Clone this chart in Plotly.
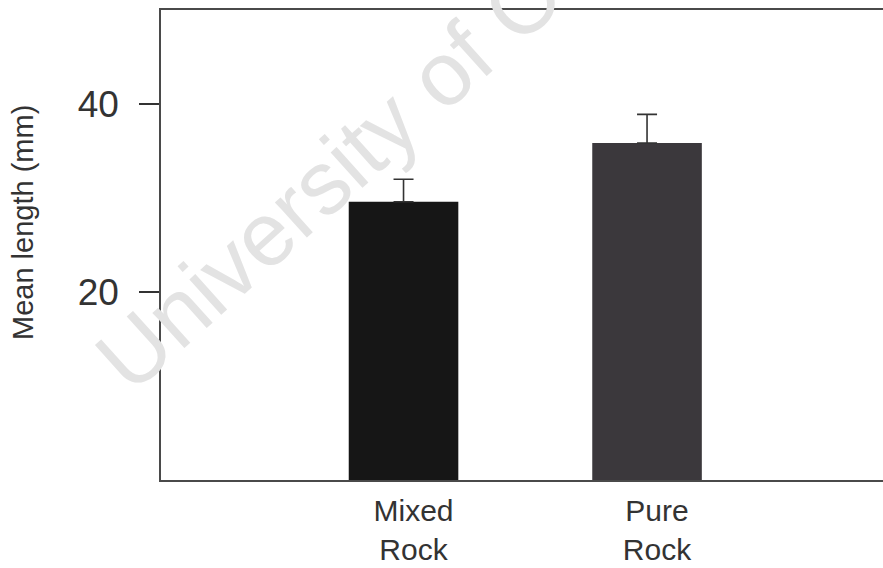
import plotly.graph_objects as go

# Mean shell length by substrate type, with standard error
categories = ["Mixed<br>Rock", "Pure<br>Rock"]
mean_length = [29.6, 35.85]
std_error = [2.4, 3.05]
bar_colors = ["#161616", "#3b383c"]
y_ticks = [20, 40]

FONT = "Liberation Sans, Arial, sans-serif"
AXIS = "#4a4a4a"

fig = go.Figure()
fig.add_trace(go.Bar(
    x=categories,
    y=mean_length,
    width=0.45,
    marker=dict(color=bar_colors, line=dict(width=0)),
    error_y=dict(type="data", array=std_error, symmetric=False,
                 arrayminus=[0, 0], color="#333333", thickness=1.6, width=10),
    showlegend=False,
))

fig.update_layout(
    width=883, height=568,
    margin=dict(l=161, r=0, t=10, b=88),
    paper_bgcolor="white", plot_bgcolor="white",
    font=dict(family=FONT, color="#333333"),
    xaxis=dict(
        type="category",
        range=[-0.996, 1.969],
        automargin=False,
        showline=True, linecolor=AXIS, linewidth=1.5, mirror=True,
        ticks="", showgrid=False, zeroline=False,
        tickfont=dict(size=30, color="#333333"),
        ticklabelshift=10, ticklabelstandoff=3,
    ),
    yaxis=dict(
        range=[0, 50],
        tickvals=y_ticks,
        automargin=False,
        showline=True, linecolor=AXIS, linewidth=1.5, mirror=False,
        ticks="outside", ticklen=20, tickwidth=1.5, tickcolor="#333333",
        showgrid=False, zeroline=False,
        tickfont=dict(size=37, color="#333333"),
        ticklabelstandoff=13,
    ),
)

# Y-axis title, placed as a rotated label left of the tick labels
fig.add_annotation(
    text="Mean length (mm)",
    xref="paper", yref="paper", x=-0.191, y=0.547,
    xanchor="center", yanchor="middle",
    showarrow=False, textangle=-90,
    font=dict(family=FONT, size=29, color="#333333"),
)

# Light diagonal watermark across the panel
fig.add_annotation(
    text="University of Cape Town",
    xref="paper", yref="paper", x=0.428, y=0.918,
    xanchor="center", yanchor="middle",
    showarrow=False, textangle=-42,
    font=dict(family=FONT, size=90, color="#e3e3e3"),
)

fig.write_html("out.html")
